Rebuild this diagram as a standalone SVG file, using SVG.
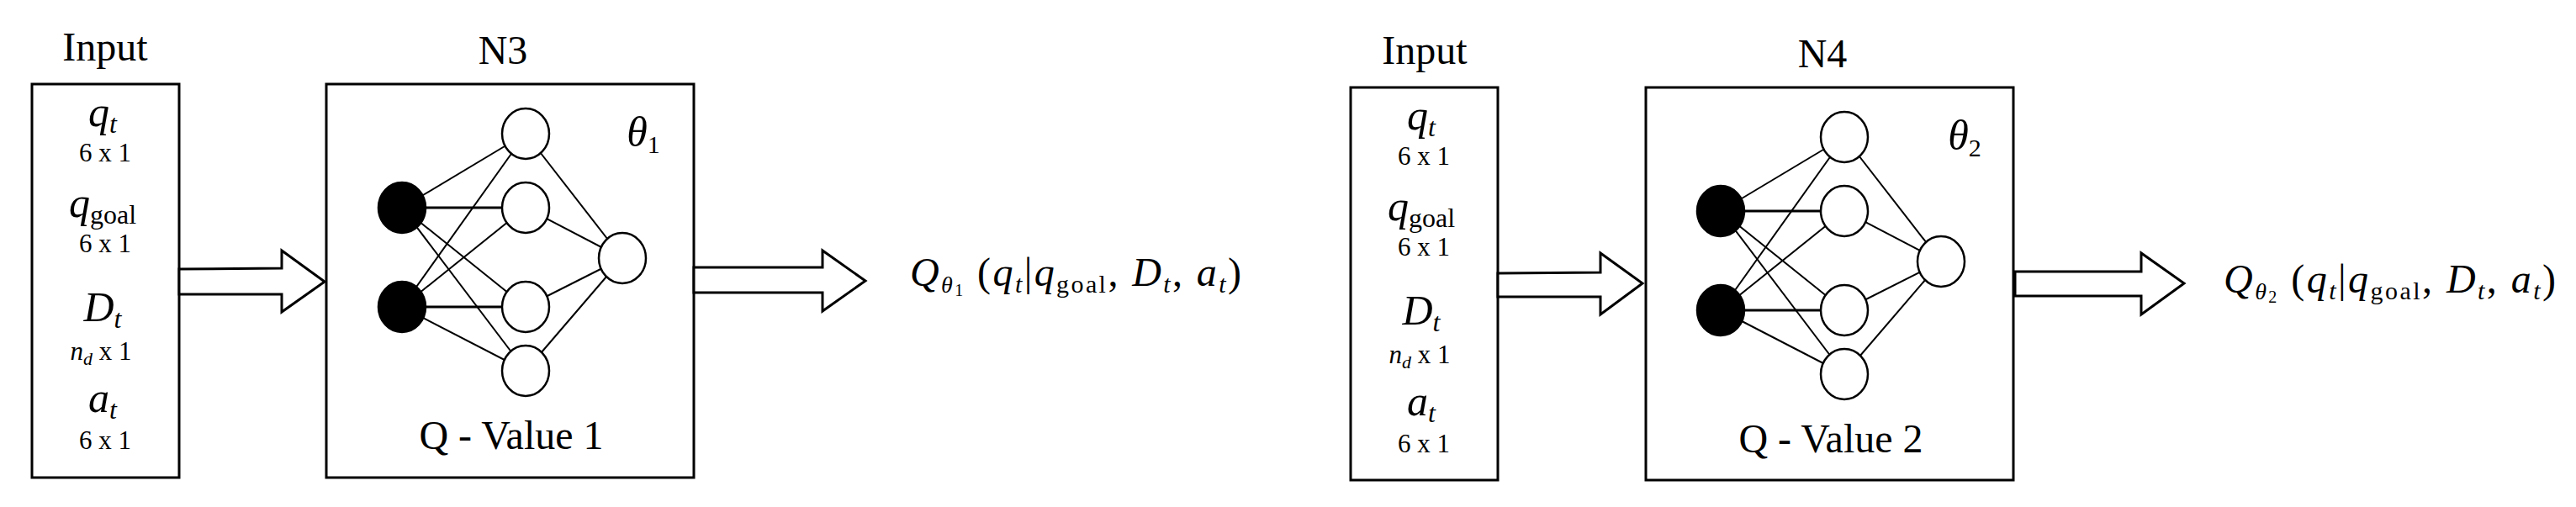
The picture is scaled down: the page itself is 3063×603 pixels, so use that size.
<svg xmlns="http://www.w3.org/2000/svg" width="3063" height="603" viewBox="0 0 3063 603">
<style>
text{font-family:"Liberation Serif","DejaVu Serif",serif;fill:#000}
.t{font-size:48px;text-anchor:middle}
.v{font-size:50px;font-style:italic;text-anchor:middle}
.s{font-size:31px;text-anchor:middle}
.f{font-size:48px}
.box{fill:#fff;stroke:#000;stroke-width:3}
.n{fill:#fff;stroke:#000;stroke-width:2.5}
.b{fill:#000;stroke:#000;stroke-width:2.5}
.w{stroke:#000;stroke-width:2;fill:none}
.ar{fill:#fff;stroke:#000;stroke-width:3;stroke-linejoin:miter}
</style>
<defs>
<g id="net">
<g class="w">
<line x1="478" y1="247" x2="625" y2="159"/><line x1="478" y1="247" x2="625" y2="247" stroke-width="3"/><line x1="478" y1="247" x2="625" y2="365"/><line x1="478" y1="247" x2="625" y2="441"/>
<line x1="478" y1="365" x2="625" y2="159"/><line x1="478" y1="365" x2="625" y2="247"/><line x1="478" y1="365" x2="625" y2="365" stroke-width="3"/><line x1="478" y1="365" x2="625" y2="441"/>
<line x1="625" y1="159" x2="740" y2="307"/><line x1="625" y1="247" x2="740" y2="307"/><line x1="625" y1="365" x2="740" y2="307"/><line x1="625" y1="441" x2="740" y2="307"/>
</g>
<ellipse class="b" cx="478" cy="247" rx="28" ry="30"/><ellipse class="b" cx="478" cy="365" rx="28" ry="30"/>
<ellipse class="n" cx="625" cy="159" rx="28" ry="30"/><ellipse class="n" cx="625" cy="247" rx="28" ry="30"/><ellipse class="n" cx="625" cy="365" rx="28" ry="30"/><ellipse class="n" cx="625" cy="441" rx="28" ry="30"/>
<ellipse class="n" cx="740" cy="307" rx="28" ry="30"/>
</g>
</defs>

<g id="input1">
<text class="t" x="125" y="72">Input</text>
<rect class="box" x="38" y="100" width="175" height="468"/>
<text class="v" x="122" y="150">q<tspan font-size="32" dy="8">t</tspan></text>
<text class="s" x="125" y="192">6 x 1</text>
<text class="v" x="122" y="258">q<tspan font-size="32" font-style="normal" dy="8">goal</tspan></text>
<text class="s" x="125" y="300">6 x 1</text>
<text class="v" x="122" y="382">D<tspan font-size="32" dy="8">t</tspan></text>
<text class="s" x="120" y="428"><tspan font-style="italic">n<tspan font-size="22" dy="6">d</tspan></tspan><tspan dy="-6"> x 1</tspan></text>
<text class="v" x="122" y="490">a<tspan font-size="32" dy="8">t</tspan></text>
<text class="s" x="125" y="534">6 x 1</text>
</g>
<g id="n3">
<text class="t" x="598" y="76">N3</text>
<rect class="box" x="388" y="100" width="437" height="468"/>
<use href="#net"/>
<text class="v" x="765" y="174">θ<tspan font-size="30" font-style="normal" dy="8">1</tspan></text>
<text class="t" x="608" y="534">Q - Value 1</text>
</g>
<g id="out1">
<text class="f" x="1082" y="340" textLength="394" lengthAdjust="spacing"><tspan font-style="italic">Q</tspan><tspan font-size="28" font-style="italic" dy="8">θ</tspan><tspan font-size="20" dy="4">1</tspan><tspan dy="-12"> (</tspan><tspan font-style="italic">q</tspan><tspan font-size="30" font-style="italic" dy="8">t</tspan><tspan dy="-8">|</tspan><tspan font-style="italic">q</tspan><tspan font-size="30" dy="8">goal</tspan><tspan dy="-8">, </tspan><tspan font-style="italic">D</tspan><tspan font-size="30" font-style="italic" dy="8">t</tspan><tspan dy="-8">, </tspan><tspan font-style="italic">a</tspan><tspan font-size="30" font-style="italic" dy="8">t</tspan><tspan dy="-8">)</tspan></text>
</g>

<g id="input2">
<text class="t" x="1694" y="76">Input</text>
<rect class="box" x="1606" y="104" width="175" height="467"/>
<text class="v" x="1690" y="154">q<tspan font-size="32" dy="8">t</tspan></text>
<text class="s" x="1693" y="196">6 x 1</text>
<text class="v" x="1690" y="262">q<tspan font-size="32" font-style="normal" dy="8">goal</tspan></text>
<text class="s" x="1693" y="304">6 x 1</text>
<text class="v" x="1690" y="386">D<tspan font-size="32" dy="8">t</tspan></text>
<text class="s" x="1688" y="432"><tspan font-style="italic">n<tspan font-size="22" dy="6">d</tspan></tspan><tspan dy="-6"> x 1</tspan></text>
<text class="v" x="1690" y="494">a<tspan font-size="32" dy="8">t</tspan></text>
<text class="s" x="1693" y="538">6 x 1</text>
</g>
<g id="n4">
<text class="t" x="2167" y="80">N4</text>
<rect class="box" x="1957" y="104" width="437" height="467"/>
<use href="#net" transform="translate(1568,4)"/>
<text class="v" x="2336" y="178">θ<tspan font-size="30" font-style="normal" dy="8">2</tspan></text>
<text class="t" x="2177" y="538">Q - Value 2</text>
</g>
<g id="out2">
<text class="f" x="2644" y="348" textLength="395" lengthAdjust="spacing"><tspan font-style="italic">Q</tspan><tspan font-size="28" font-style="italic" dy="8">θ</tspan><tspan font-size="20" dy="4">2</tspan><tspan dy="-12"> (</tspan><tspan font-style="italic">q</tspan><tspan font-size="30" font-style="italic" dy="8">t</tspan><tspan dy="-8">|</tspan><tspan font-style="italic">q</tspan><tspan font-size="30" dy="8">goal</tspan><tspan dy="-8">, </tspan><tspan font-style="italic">D</tspan><tspan font-size="30" font-style="italic" dy="8">t</tspan><tspan dy="-8">, </tspan><tspan font-style="italic">a</tspan><tspan font-size="30" font-style="italic" dy="8">t</tspan><tspan dy="-8">)</tspan></text>
</g>

<g id="connectors">
<polygon class="ar" points="213,320 335,319 335,298 386,335 335,371 335,350 213,350"/>
<polygon class="ar" points="825,318 978,318 978,298 1029,334 978,370 978,348 825,348"/>
<polygon class="ar" points="1781,325 1903,324 1903,301 1953,337 1903,374 1903,353 1781,353"/>
<polygon class="ar" points="2396,323 2546,323 2546,301 2597,337 2546,374 2546,352 2396,352"/>
</g>
</svg>
